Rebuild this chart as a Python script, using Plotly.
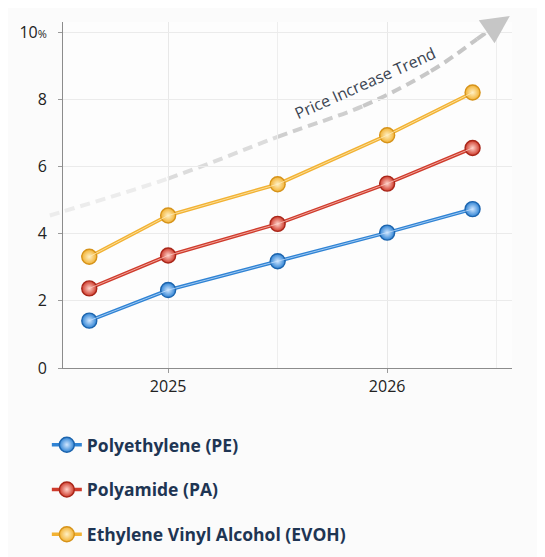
import plotly.graph_objects as go

# --- data ------------------------------------------------------------------
periods = [2024.64, 2025.0, 2025.5, 2026.0, 2026.39]
pe = [1.41, 2.32, 3.18, 4.03, 4.73]
pa = [2.37, 3.35, 4.29, 5.49, 6.55]
evoh = [3.31, 4.54, 5.47, 6.93, 8.20]
series_names = ["Polyethylene (PE)", "Polyamide (PA)", "Ethylene Vinyl Alcohol (EVOH)"]

year_ticks = [2025, 2026]
year_labels = ["2025", "2026"]
pct_ticks = [0, 2, 4, 6, 8, 10]
pct_labels = ["0", "2", "4", "6", "8", "10<span style='font-size:11px'>%</span>"]

# hand-drawn "trend" guide (data units)
trend_x = [2024.46, 2025.0, 2025.5, 2025.89, 2026.2, 2026.41, 2026.47]
trend_y = [4.54, 5.64, 6.88, 7.80, 8.84, 9.79, 10.08]
trend_tip = (2026.56, 10.48)

X_RANGE = [2024.52, 2026.57]
Y_RANGE = [0, 10.3]

# colours: (main, highlight, dark edge)
palette = [
    ("#2f83d4", "#cfe6ff", "#1c64ad"),
    ("#cf3b2c", "#ffd2c9", "#a82619"),
    ("#f2b233", "#fff0c4", "#d6931a"),
]

fig = go.Figure()

for name, vals, (main, light, dark) in zip(series_names, [pe, pa, evoh], palette):
    # main line + glossy markers (this one shows in the legend)
    fig.add_trace(go.Scatter(
        x=periods, y=vals, name=name, mode="lines+markers",
        legendgroup=name,
        line=dict(color=main, width=3.6),
        marker=dict(size=15, color=main, symbol="circle",
                    gradient=dict(type="radial", color=light),
                    line=dict(color=dark, width=1.4)),
    ))
    # thin highlight stripe along the line
    fig.add_trace(go.Scatter(
        x=periods, y=vals, mode="lines", legendgroup=name, showlegend=False,
        hoverinfo="skip",
        line=dict(color=light, width=1.0),
        opacity=0.7,
    ))


def to_paper(x, y):
    px = (x - X_RANGE[0]) / (X_RANGE[1] - X_RANGE[0])
    py = (y - Y_RANGE[0]) / (Y_RANGE[1] - Y_RANGE[0])
    return px, py


# smooth dashed trend curve (Catmull-Rom -> cubic bezier), fading to the left
pts = [to_paper(x, y) for x, y in zip(trend_x, trend_y)]
seg_colors = ["#ececec", "#dcdcdc", "#cfcfcf", "#c8c8c8", "#c6c6c6", "#c6c6c6"]
for i in range(len(pts) - 1):
    p0 = pts[i - 1] if i > 0 else pts[i]
    p1, p2 = pts[i], pts[i + 1]
    p3 = pts[i + 2] if i + 2 < len(pts) else pts[i + 1]
    c1 = (p1[0] + (p2[0] - p0[0]) / 6, p1[1] + (p2[1] - p0[1]) / 6)
    c2 = (p2[0] - (p3[0] - p1[0]) / 6, p2[1] - (p3[1] - p1[1]) / 6)
    path = (f"M {p1[0]:.4f},{p1[1]:.4f} C {c1[0]:.4f},{c1[1]:.4f} "
            f"{c2[0]:.4f},{c2[1]:.4f} {p2[0]:.4f},{p2[1]:.4f}")
    fig.add_shape(type="path", path=path, xref="paper", yref="paper",
                  line=dict(color=seg_colors[i], width=4, dash="10px,6px"),
                  layer="below")

# arrow head at the end of the trend
fig.add_annotation(
    x=trend_tip[0], y=trend_tip[1], xref="x", yref="y",
    ax=trend_x[-1], ay=trend_y[-1], axref="x", ayref="y",
    showarrow=True, arrowhead=2, arrowsize=1.4, arrowwidth=4,
    arrowcolor="#c6c6c6", text="",
)
fig.add_annotation(
    x=2025.90, y=8.49, xref="x", yref="y", text="Price Increase Trend",
    showarrow=False, textangle=-24,
    font=dict(family="Open Sans", size=16, color="#3b4552"),
)

fig.update_xaxes(
    range=X_RANGE, tickvals=year_ticks, ticktext=year_labels,
    showline=True, linecolor="#8c8c8c", linewidth=1,
    ticks="outside", ticklen=4, tickcolor="#9a9a9a",
    showgrid=True, gridcolor="#e8e8e8", gridwidth=1,
    minor=dict(dtick=0.5, tick0=2025, showgrid=True, gridcolor="#eeeeee"),
    tickfont=dict(family="Open Sans", size=16, color="#222"),
    zeroline=False, fixedrange=True,
)
fig.update_yaxes(
    range=Y_RANGE, tickvals=pct_ticks, ticktext=pct_labels,
    showline=True, linecolor="#8c8c8c", linewidth=1,
    ticks="outside", ticklen=4, tickcolor="#9a9a9a",
    showgrid=True, gridcolor="#ebebeb", gridwidth=1,
    tickfont=dict(family="Open Sans", size=16, color="#222"),
    ticklabelstandoff=8, zeroline=False, fixedrange=True,
)

fig.update_layout(
    width=545, height=557,
    margin=dict(l=55, r=41, t=14, b=193),
    paper_bgcolor="#fbfbfb", plot_bgcolor="#fdfdfd",
    showlegend=True,
    legend=dict(
        orientation="v", x=-0.036, xanchor="left", y=-0.17, yanchor="top",
        traceorder="grouped", tracegroupgap=19, itemwidth=30,
        bgcolor="rgba(0,0,0,0)",
        font=dict(family="Open Sans", size=17.5, color="#1e3553", weight="bold"),
    ),
    hovermode="closest",
)

fig.write_html("out.html")
